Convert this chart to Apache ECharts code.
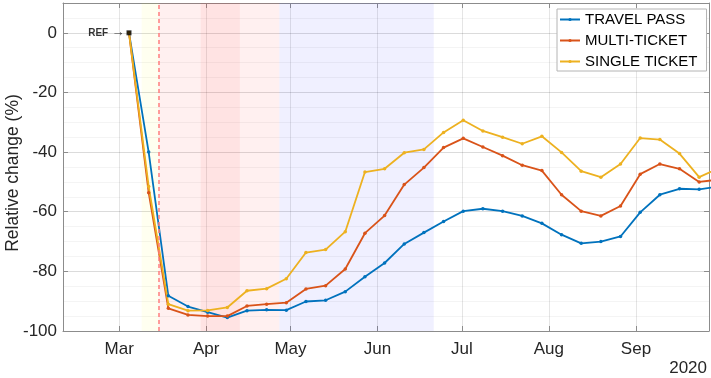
<!DOCTYPE html>
<html><head><meta charset="utf-8">
<script src="https://cdn.jsdelivr.net/npm/echarts@6/dist/echarts.min.js"></script>
<style>html,body{margin:0;padding:0;background:#fff}#c{width:711px;height:378px}</style>
</head><body><div id="c"></div>
<script>
// ---- data ----
const weekDates = ['2020-03-04T12:00','2020-03-11T12:00','2020-03-18T12:00','2020-03-25T12:00','2020-04-01T12:00','2020-04-08T12:00','2020-04-15T12:00','2020-04-22T12:00','2020-04-29T12:00','2020-05-06T12:00','2020-05-13T12:00','2020-05-20T12:00','2020-05-27T12:00','2020-06-03T12:00','2020-06-10T12:00','2020-06-17T12:00','2020-06-24T12:00','2020-07-01T12:00','2020-07-08T12:00','2020-07-15T12:00','2020-07-22T12:00','2020-07-29T12:00','2020-08-05T12:00','2020-08-12T12:00','2020-08-19T12:00','2020-08-26T12:00','2020-09-02T12:00','2020-09-09T12:00','2020-09-16T12:00','2020-09-23T12:00','2020-09-30T12:00'];
const travelPass   = [0,-40.0,-88.2,-91.8,-93.7,-95.5,-93.2,-92.9,-93.0,-90.1,-89.7,-86.8,-81.8,-77.2,-70.8,-67.0,-63.3,-59.8,-59.0,-59.8,-61.4,-63.9,-67.7,-70.6,-70.0,-68.3,-60.2,-54.3,-52.3,-52.5,-51.5];
const multiTicket  = [0,-53.6,-92.4,-94.6,-95.0,-95.0,-91.6,-91.0,-90.5,-85.9,-84.8,-79.2,-67.2,-61.3,-50.9,-45.2,-38.5,-35.4,-38.3,-41.2,-44.4,-46.2,-54.3,-59.8,-61.4,-58.1,-47.4,-44.0,-45.6,-50.0,-49.2];
const singleTicket = [0,-51.5,-91.0,-93.2,-93.1,-92.1,-86.5,-85.8,-82.5,-73.7,-72.7,-66.7,-46.7,-45.6,-40.2,-39.1,-33.4,-29.3,-32.9,-35.0,-37.2,-34.7,-40.1,-46.4,-48.4,-44.0,-35.3,-35.8,-40.5,-48.4,-45.4];
const seriesNames = ['TRAVEL PASS','MULTI-TICKET','SINGLE TICKET'];
const monthTicks  = ['2020-03-01','2020-04-01','2020-05-01','2020-06-01','2020-07-01','2020-08-01','2020-09-01'];
const monthLabels = ['Mar','Apr','May','Jun','Jul','Aug','Sep'];
const yearLabel = '2020';
const xMinDate = '2020-02-10', xMaxDate = '2020-09-27';
const yMin = -100, yMax = 10, yStep = 20, yMinorStep = 5;
const refDate = '2020-03-04T12:00', refValue = 0, refText = 'REF';
const markerDate = '2020-03-15';
const periodStarts = ['2020-03-09','2020-03-15','2020-03-30','2020-04-13','2020-04-27'];
const periodEnds   = ['2020-03-15','2020-03-30','2020-04-13','2020-04-27','2020-06-21'];
// ---- styles ----
const periodColors = ['rgba(255,255,0,0.06)','rgba(255,0,0,0.06)','rgba(255,0,0,0.11)','rgba(255,0,0,0.06)','rgba(0,0,255,0.06)'];
const lineColors = ['#0072BD','#D95319','#EDB120'];
const FONT = '"Liberation Sans", Arial, Helvetica, sans-serif';
const AX = '#8c8c8c', TXT = '#262626';

function ts(s){
  const [d,t] = s.split('T'); const [y,m,dd] = d.split('-').map(Number);
  let h=0, mi=0; if (t) { [h,mi] = t.split(':').map(Number); }
  return new Date(y, m-1, dd, h, mi).getTime();
}
const monthTs = monthTicks.map(ts);
const seriesValues = [travelPass, multiTicket, singleTicket];

const chart = echarts.init(document.getElementById('c'), null, {renderer:'canvas'});
const xBase = {
  type:'value', min: ts(xMinDate), max: ts(xMaxDate), scale:true,
  axisLine:{show:true, onZero:false, lineStyle:{color:AX, width:1}},
  axisTick:{show:true, inside:true, length:5, customValues: monthTs, lineStyle:{color:AX}},
  axisPointer:{show:false}
};
const yBase = {
  type:'value', min:yMin, max:yMax, interval:yStep,
  axisLine:{show:true, onZero:false, lineStyle:{color:AX, width:1}},
  axisTick:{show:true, inside:true, length:5, lineStyle:{color:AX}}
};
const series = seriesNames.map((n,k)=>({
  name:n, type:'line', xAxisIndex:0, yAxisIndex:0, z:3,
  data: weekDates.map((d,i)=>[ts(d), seriesValues[k][i]]),
  symbol:'circle', symbolSize:3.5, showSymbol:true,
  lineStyle:{width:1.8, color:lineColors[k]}, itemStyle:{color:lineColors[k]},
  emphasis:{disabled:true}, animation:false
}));
series.unshift({
  name:'periods', type:'line', data:[], xAxisIndex:0, yAxisIndex:0, z:1, silent:true,
  markArea:{silent:true, data: periodStarts.map((s,i)=>[{xAxis:ts(s), itemStyle:{color:periodColors[i]}},{xAxis:ts(periodEnds[i])}])},
  markLine:{silent:true, symbol:['none','none'], label:{show:false},
    lineStyle:{color:'#ff7d7d', width:1.5, type:[4,3]}, data:[{xAxis:ts(markerDate)}]}
});
series.push({
  name:'ref', type:'scatter', z:5, xAxisIndex:0, yAxisIndex:0, silent:true,
  data:[[ts(refDate), refValue]], symbol:'rect', symbolSize:5, itemStyle:{color:'#000'},
  label:{show:true, position:'left', distance:2, formatter:'{a|'+refText+'} {b|→}',
    rich:{a:{fontSize:10, fontWeight:'bold', color:'#000', fontFamily:FONT}, b:{fontSize:13, color:'#000', fontFamily:FONT}}}
});

chart.setOption({
  animation:false,
  backgroundColor:'#fff',
  textStyle:{fontFamily:FONT},
  grid:{left:63, right:2, top:3, bottom:47, containLabel:false, outerBoundsMode:'none'},
  legend:{
    data:seriesNames, orient:'vertical', left:557, top:9,
    padding:[3,9,2,2], itemGap:6, itemWidth:20, itemHeight:4,
    backgroundColor:'#fff', borderColor:'#b4b4b4', borderWidth:1, borderRadius:0,
    textStyle:{fontSize:15, color:'#000', fontFamily:FONT, lineHeight:15}
  },
  xAxis:[
    Object.assign({}, xBase, {position:'bottom',
      axisLabel:{show:true, customValues: monthTs, fontSize:17, color:TXT, fontFamily:FONT, margin:10,
        formatter:(v)=>{const i = monthTs.indexOf(v); return i>=0 ? monthLabels[i] : '';}},
      splitLine:{show:true, lineStyle:{color:'rgba(0,0,0,0.10)', width:1}}}),
    Object.assign({}, xBase, {position:'top', axisLabel:{show:false}, splitLine:{show:false}})
  ],
  yAxis:[
    Object.assign({}, yBase, {position:'left',
      axisLabel:{show:true, fontSize:17, color:TXT, fontFamily:FONT, margin:6, showMaxLabel:false},
      splitLine:{show:true, lineStyle:{color:'rgba(0,0,0,0.10)'}},
      name:'Relative change (%)', nameLocation:'middle', nameGap:41, nameMoveOverlap:false,
      nameTextStyle:{fontSize:17.5, color:TXT, fontFamily:FONT, padding:[0,12,0,0]}}),
    Object.assign({}, yBase, {position:'right', axisLabel:{show:false}, splitLine:{show:false}}),
    {type:'value', min:yMin, max:yMax, interval:yMinorStep, position:'right', show:true,
      axisLine:{show:false}, axisTick:{show:false}, axisLabel:{show:false},
      splitLine:{show:true, lineStyle:{color:'rgba(0,0,0,0.045)'}}}
  ],
  graphic:[{type:'text', right:4, top:360, style:{text:yearLabel, fontSize:17, fill:TXT, fontFamily:FONT}}],
  series: series
});
</script></body></html>
